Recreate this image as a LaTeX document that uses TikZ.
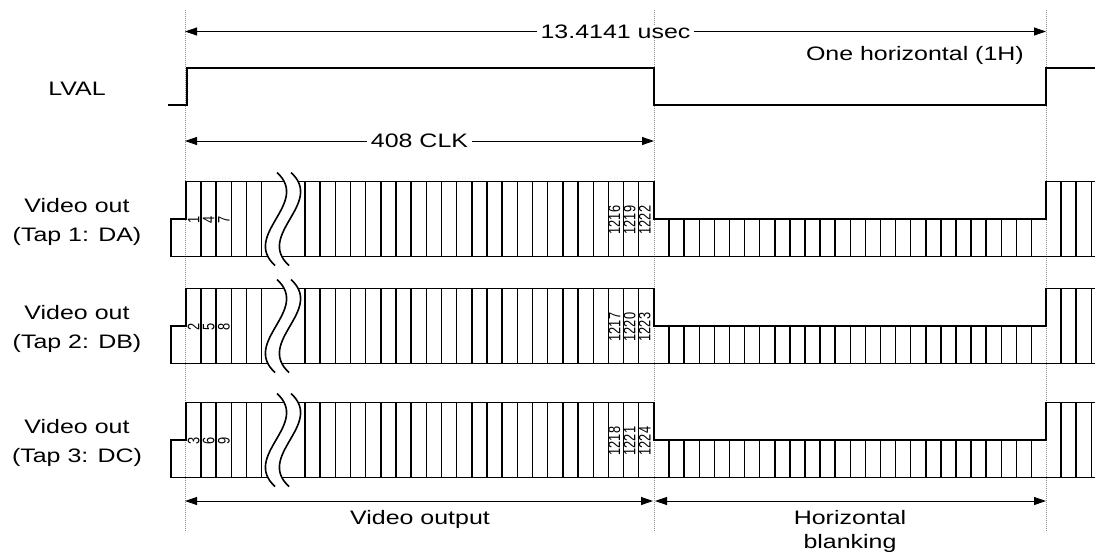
\documentclass[tikz,border=0pt]{standalone}
\usepackage{fontspec}
\setmainfont{Liberation Sans}
\usepackage{graphicx}
\usetikzlibrary{arrows.meta}
\newcommand{\wide}[1]{\scalebox{1.28}[1]{#1}}
\newcommand{\tall}[1]{\scalebox{1}[1.3]{#1}}
\tikzset{
  signal/.style={line width=1.6pt},
  tick/.style={line width=1.45pt},
  marker/.style={draw=black!45, line width=0.7pt, dash pattern=on 1.2pt off 0.8pt},
  dim/.style={line width=0.8pt, {Triangle[length=12pt,width=8pt]}-{Triangle[length=12pt,width=8pt]}},
  lbl/.style={font=\fontsize{19.5}{24}\selectfont, inner sep=0pt},
  cnt/.style={font=\fontsize{12.8}{13}\selectfont, rotate=90, inner sep=0pt},
}
\begin{document}
\begin{tikzpicture}[x=1pt,y=-1pt]
  \useasboundingbox (0,0) rectangle (1095,558);
  \coordinate (tA) at (185,0);
  \coordinate (tB) at (654,0);
  \coordinate (tC) at (1046,0);
  \draw[marker] (tA |- 0,10) -- (tA |- 0,531);
  \draw[marker] (tB |- 0,10) -- (tB |- 0,531);
  \draw[marker] (tC |- 0,10) -- (tC |- 0,531);
  % one horizontal period
  \draw[dim] (tA |- 0,31.5) -- node[lbl, fill=white, inner xsep=4pt] (period) {\wide{13.4141 usec}} (tC |- 0,31.5);
  \node[lbl, anchor=base east] (oneh) at (1024,60) {\wide{One horizontal (1H)}};
  % LVAL
  \node[lbl] (lval) at (77,89) {\wide{LVAL}};
  \draw[signal] (168,105) -- (187,105) -- (187,68) -- (654,68) -- (654,105)
                -- (1046,105) -- (1046,68) -- (1095,68);
  \draw[dim] (tA |- 0,141) -- node[lbl, fill=white, inner xsep=4pt] (clk) {\wide{408 CLK}} (tB |- 0,141);
  % video taps
  \foreach \m/\ca/\cb/\cc/\cd/\ce/\cf/\tap in
      {219/1/4/7/1216/1219/1222/{Tap 1: DA},
       326/2/5/8/1217/1220/1223/{Tap 2: DB},
       440/3/6/9/1218/1221/1224/{Tap 3: DC}}{
    \pgfmathsetmacro\rtop{\m-37.5}
    \pgfmathsetmacro\rbot{\m+37.5}
    \node[lbl, anchor=base] (vo\ca) at (77,\m-7) {\wide{Video out}};
    \node[lbl, anchor=base] (tap\ca) at (77,\m+22) {\wide{(\tap)}};
    \draw[signal] (171,\rbot) -- (171,\m) -- (186,\m) -- (186,\rtop) -- (654,\rtop)
                  -- (654,\m) -- (1046,\m) -- (1046,\rtop) -- (1095,\rtop);
    \draw[signal] (171,\rbot) -- (1095,\rbot);
    \foreach \k in {1,...,5}
      \draw[tick] (186+15.1*\k,\rtop) -- (186+15.1*\k,\rbot);
    \foreach \k in {0,...,22}
      \draw[tick] (305+15.17*\k,\rtop) -- (305+15.17*\k,\rbot);
    \foreach \k in {1,...,25}
      \draw[tick] (654+15.1*\k,\m) -- (654+15.1*\k,\rbot);
    \foreach \k in {1,2,3}
      \draw[tick] (1046+15.1*\k,\rtop) -- (1046+15.1*\k,\rbot);
    % break
    \fill[white] (277,\rtop-9) .. controls (311,\rtop+22) and (241,\rbot-22) .. (275,\rbot+9)
                 -- (289,\rbot+9) .. controls (255,\rbot-22) and (325,\rtop+22) .. (291,\rtop-9) -- cycle;
    \draw[signal] (277,\rtop-9) .. controls (311,\rtop+22) and (241,\rbot-22) .. (275,\rbot+9);
    \draw[signal] (291,\rtop-9) .. controls (325,\rtop+22) and (255,\rbot-22) .. (289,\rbot+9);
    % clock counts
    \node[cnt] (d\ca) at (193.6,\m+1) {\tall{\ca}};
    \node[cnt] (d\cb) at (208.7,\m+1) {\tall{\cb}};
    \node[cnt] (d\cc) at (223.8,\m+1) {\tall{\cc}};
    \node[cnt] (d\cd) at (614.5,\m+1) {\tall{\cd}};
    \node[cnt] (d\ce) at (629.6,\m+1) {\tall{\ce}};
    \node[cnt] (d\cf) at (644.7,\m+1) {\tall{\cf}};
  }
  % bottom spans
  \draw[dim, shorten >=1pt] (tA |- 0,501) -- (tB |- 0,501);
  \draw[dim, shorten <=1pt] (tB |- 0,501) -- (tC |- 0,501);
  \node[lbl, anchor=base] (vidout) at (420,524) {\wide{Video output}};
  \node[lbl, anchor=base] (hblank) at (850,524) {\wide{Horizontal}};
  \node[lbl, anchor=base] (hblank2) at (850,548) {\wide{blanking}};
\end{tikzpicture}
\end{document}
